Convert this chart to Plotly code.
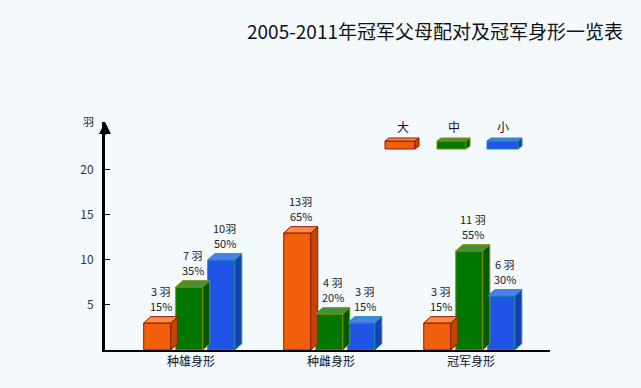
import plotly.graph_objects as go

categories = ["种雄身形", "种雌身形", "冠军身形"]
series_names = ["大", "中", "小"]
values_big = [3, 13, 3]
values_mid = [7, 4, 11]
values_small = [10, 3, 6]
labels_big = ["3 羽", "13羽", "3 羽"]
labels_mid = ["7 羽", "4 羽", "11 羽"]
labels_small = ["10羽", "3 羽", "6 羽"]
pct_big = ["15%", "65%", "15%"]
pct_mid = ["35%", "20%", "55%"]
pct_small = ["50%", "15%", "30%"]
y_ticks = [5, 10, 15, 20]

series_values = [values_big, values_mid, values_small]
series_labels = [labels_big, labels_mid, labels_small]
series_pcts = [pct_big, pct_mid, pct_small]

# styling
front = ["#F25F0A", "#007800", "#1F55E6"]
side = ["#C44400", "#005A00", "#173FB8"]
top = ["#FF8A45", "#3E923E", "#4D7EEE"]
edge = ["#8B1A00", "#8A8A00", "#1C8CA0"]
BG = "#F3F9FD"

FONT = "Noto Sans CJK SC, Noto Sans, sans-serif"
slot = 0.2286
w = 0.193
dx = 0.05
dy = 0.7
shift = -0.0125

fig = go.Figure()
xs = list(range(len(categories)))
annotations = []

for s in range(3):
    off = (s - 1) * slot + shift - w / 2
    fig.add_trace(go.Bar(
        x=xs, y=series_values[s], width=w, offset=off,
        marker=dict(color=front[s], line=dict(color=edge[s], width=1)),
        name=series_names[s], showlegend=False, hoverinfo="skip"))

for s in range(3):
    off = (s - 1) * slot + shift - w / 2
    sx, sy, tx, ty = [], [], [], []
    for i, (c, v) in enumerate(zip(xs, series_values[s])):
        x0 = c + off
        x1 = x0 + w
        sx += [x1, x1, x1 + dx, x1 + dx, x1, None]
        sy += [0, v, v + dy, dy, 0, None]
        tx += [x0, x1, x1 + dx, x0 + dx, x0, None]
        ty += [v, v, v + dy, v + dy, v, None]
        lxv = (x0 + x1) / 2 + dx / 2
        annotations.append(dict(text=series_pcts[s][i], x=lxv, y=v + dy,
                                xref="x", yref="y", showarrow=False,
                                xanchor="center", yanchor="bottom", yshift=1,
                                font=dict(size=11, color="#222222", family=FONT)))
        annotations.append(dict(text=series_labels[s][i], x=lxv, y=v + dy,
                                xref="x", yref="y", showarrow=False,
                                xanchor="center", yanchor="bottom", yshift=16,
                                font=dict(size=11, color="#222222", family=FONT)))
    fig.add_trace(go.Scatter(x=sx, y=sy, mode="lines", fill="toself",
                             fillcolor=side[s], line=dict(color=edge[s], width=1),
                             showlegend=False, hoverinfo="skip"))
    fig.add_trace(go.Scatter(x=tx, y=ty, mode="lines", fill="toself",
                             fillcolor=top[s], line=dict(color=edge[s], width=1),
                             showlegend=False, hoverinfo="skip"))

L, R, T, B = 105, 91, 122, 38
PW = 641 - L - R
PH = 388 - T - B


def px(x):
    return (x - L) / PW


def py(y):
    return (388 - B - y) / PH


annotations += [
    dict(text="羽", xref="paper", yref="paper", x=px(88), y=py(121),
         xanchor="center", yanchor="middle",
         showarrow=False, font=dict(size=11, color="#222222", family=FONT)),
    dict(text="", xref="paper", yref="paper", x=0, y=1.0,
         showarrow=True, arrowhead=2, arrowsize=0.8, arrowwidth=3,
         arrowcolor="black", ax=0, ay=14),
]
shapes = []
leg_text_x = [403, 454, 503]
leg_rect = [(385, 419), (437, 470), (487, 522)]
for s in range(3):
    annotations.append(dict(text=series_names[s], xref="paper", yref="paper",
                            x=px(leg_text_x[s]), y=py(127), showarrow=False,
                            xanchor="center", yanchor="middle",
                            font=dict(size=12, color="#111111", family=FONT)))
    x0, x1 = leg_rect[s]
    shapes.append(dict(type="rect", xref="paper", yref="paper",
                       x0=px(x0), x1=px(x1 - 4), y0=py(149), y1=py(141),
                       fillcolor=front[s], line=dict(color=edge[s], width=1)))
    shapes.append(dict(type="path", xref="paper", yref="paper",
                       path=f"M {px(x1-4)} {py(149)} L {px(x1-4)} {py(141)} L {px(x1)} {py(138)} L {px(x1)} {py(146)} Z",
                       fillcolor=side[s], line=dict(color=edge[s], width=1)))
    shapes.append(dict(type="path", xref="paper", yref="paper",
                       path=f"M {px(x0)} {py(141)} L {px(x1-4)} {py(141)} L {px(x1)} {py(138)} L {px(x0+4)} {py(138)} Z",
                       fillcolor=top[s], line=dict(color=edge[s], width=1)))

fig.update_layout(
    width=641, height=388,
    margin=dict(l=L, r=R, t=T, b=B),
    paper_bgcolor=BG, plot_bgcolor=BG,
    barmode="overlay",
    showlegend=False,
    title=dict(text="2005-2011年冠军父母配对及冠军身形一览表",
               x=px(435), xanchor="center", xref="paper",
               y=1 - 32 / 388, yanchor="middle",
               font=dict(size=19, color="#111111", family=FONT)),
    xaxis=dict(range=[-0.614, 2.564], tickvals=xs, ticktext=categories,
               showgrid=False, zeroline=False, showline=True,
               linecolor="black", linewidth=1.5, ticks="",
               tickfont=dict(size=12, color="#111111", family=FONT)),
    yaxis=dict(range=[0, 25.33], tickvals=y_ticks, showgrid=False,
               zeroline=False, showline=True, linecolor="black", linewidth=3,
               ticks="inside", ticklen=5, tickcolor="black", tickwidth=1,
               ticklabelstandoff=6,
               tickfont=dict(size=12, color="#333333", family=FONT)),
    annotations=annotations,
    shapes=shapes,
)

fig.write_html(
    "out.html",
    config={"displayModeBar": False},
    post_script="document.body.style.margin='0';document.body.style.background='" + BG + "';",
)
